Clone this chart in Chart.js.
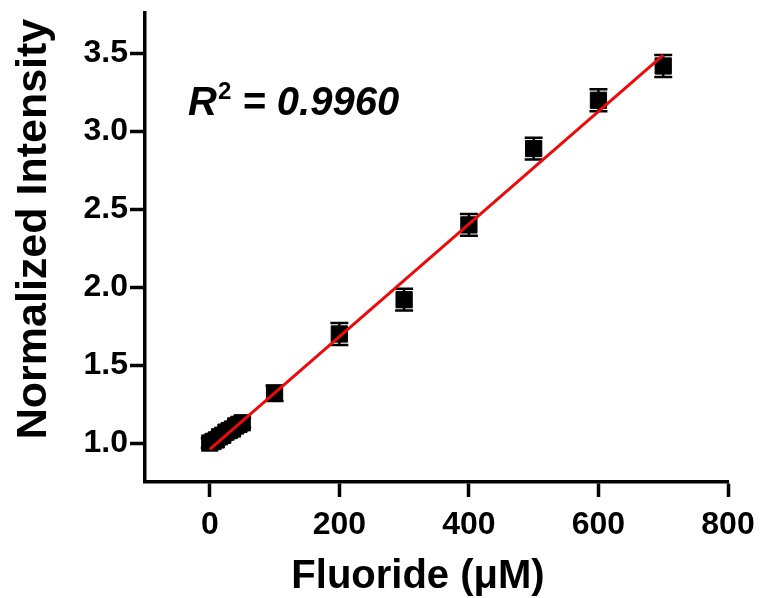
<!DOCTYPE html>
<html>
<head>
<meta charset="utf-8">
<script src="https://cdn.jsdelivr.net/npm/chart.js@4.4.0/dist/chart.umd.min.js"></script>
<style>
  html, body { margin: 0; padding: 0; background: #fff; }
  #wrap { width: 762px; height: 598px; }
</style>
</head>
<body>
<div id="wrap"><canvas id="myChart" width="762" height="598"></canvas></div>
<script>
// fluoride concentration (uM) and normalized intensity
const fluoride = [0, 5, 10, 15, 20, 25, 30, 35, 40, 45, 50, 100, 200, 300, 400, 500, 600, 700];
const intensity = [1.00, 1.01, 1.02, 1.04, 1.05, 1.07, 1.08, 1.09, 1.11, 1.12, 1.13, 1.32, 1.70, 1.92, 2.40, 2.89, 3.20, 3.42];
const errors = [0.03, 0.03, 0.03, 0.03, 0.03, 0.03, 0.03, 0.03, 0.03, 0.03, 0.03, 0.05, 0.07, 0.07, 0.07, 0.07, 0.07, 0.07];

// linear fit end points
const fitX = [0, 700];
const fitY = [0.96, 3.49];

const xTicks = [0, 200, 400, 600, 800];
const yTicks = [1.0, 1.5, 2.0, 2.5, 3.0, 3.5];

const FONT = "'Liberation Sans', Arial, sans-serif";

//error bars drawn through the chart scales
const errorBars = {
    id: 'errorBars',
    beforeDatasetsDraw(chart) {
        const ctx = chart.ctx;
        const xs = chart.scales.x, ys = chart.scales.y;
        ctx.save();
        ctx.strokeStyle = '#000';
        ctx.lineWidth = 2.5;
        for (let i = 0; i < fluoride.length; i++) {
            const px = xs.getPixelForValue(fluoride[i]);
            const top = ys.getPixelForValue(intensity[i] + errors[i]);
            const bot = ys.getPixelForValue(intensity[i] - errors[i]);
            ctx.beginPath();
            ctx.moveTo(px, top); ctx.lineTo(px, bot);
            ctx.moveTo(px - 9, top); ctx.lineTo(px + 9, top);
            ctx.moveTo(px - 9, bot); ctx.lineTo(px + 9, bot);
            ctx.stroke();
        }
        ctx.restore();
    }
};

//axis titles and the R^2 note
const labels = {
    id: 'labels',
    afterDraw(chart) {
        const ctx = chart.ctx;
        ctx.save();
        ctx.fillStyle = '#000';
        ctx.textAlign = 'center';
        ctx.textBaseline = 'alphabetic';
        ctx.font = 'bold 40px ' + FONT;
        ctx.fillText('Fluoride (\u03BCM)', 418, 588);

        ctx.font = 'bold 43px ' + FONT;
        ctx.translate(46, 229);
        ctx.rotate(-Math.PI / 2);
        ctx.fillText('Normalized Intensity', 0, 0);
        ctx.restore();

        ctx.save();
        ctx.fillStyle = '#000';
        ctx.textAlign = 'left';
        ctx.textBaseline = 'alphabetic';
        let x = 188, base = 115;
        ctx.font = 'italic bold 40px ' + FONT;
        ctx.fillText('R', x, base);
        x += ctx.measureText('R').width + 1;
        ctx.font = 'bold 24px ' + FONT;
        ctx.fillText('2', x, base - 16);
        x += ctx.measureText('2').width;
        ctx.font = 'italic bold 40px ' + FONT;
        ctx.fillText(' = 0.9960', x, base);
        ctx.restore();
    }
};

var ctx = document.getElementById('myChart').getContext('2d');
var myChart = new Chart(ctx, {
    type: 'scatter',
    data: {
        datasets: [{
            data: fluoride.map((v, i) => ({x: v, y: intensity[i]})),
            pointStyle: 'rect',
            pointRadius: 11.5,
            backgroundColor: '#000',
            borderColor: '#000',
            borderWidth: 1,
            order: 2
        }, {
            data: fitX.map((v, i) => ({x: v, y: fitY[i]})),
            showLine: true,
            borderColor: '#ee0a0a',
            borderWidth: 3,
            pointRadius: 0,
            order: 1
        }]
    },
    options: {
        responsive: false,
        animation: false,
        layout: { padding: { top: 13, right: 34, left: 0, bottom: 0 } },
        plugins: { legend: { display: false }, tooltip: { enabled: false } },
        scales: {
            x: {
                type: 'linear',
                min: -100,
                max: 800,
                afterBuildTicks: s => { s.ticks = xTicks.map(v => ({value: v})); },
                afterFit: s => { s.height = 116; s.paddingLeft = 0; s.paddingRight = 0; },
                grid: { drawOnChartArea: false, drawTicks: true, tickLength: 15, tickWidth: 3.5, tickColor: '#000' },
                border: { display: true, color: '#000', width: 3.5 },
                ticks: { color: '#000', padding: 9, maxRotation: 0, font: { family: FONT, size: 32, weight: 'bold' } }
            },
            y: {
                type: 'linear',
                min: 0.75,
                max: 3.76,
                afterBuildTicks: s => { s.ticks = yTicks.map(v => ({value: v})); },
                afterFit: s => { s.width = 145; s.paddingTop = 0; s.paddingBottom = 0; },
                grid: { drawOnChartArea: false, drawTicks: true, tickLength: 15, tickWidth: 3.5, tickColor: '#000' },
                border: { display: true, color: '#000', width: 3.5 },
                ticks: { color: '#000', padding: 2, callback: v => v.toFixed(1), font: { family: FONT, size: 32, weight: 'bold' } }
            }
        }
    },
    plugins: [errorBars, labels]
});
</script>
</body>
</html>
